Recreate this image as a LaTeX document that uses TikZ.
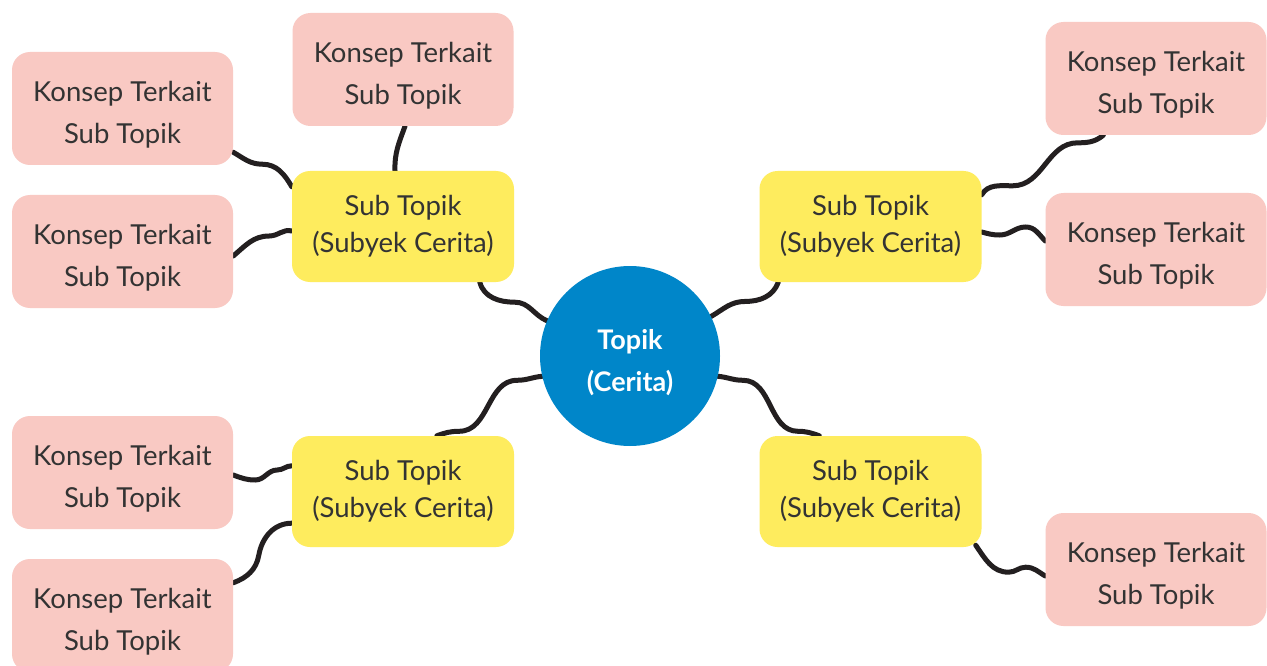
\documentclass[tikz,border=0pt]{standalone}
\usepackage{fontspec}
\setmainfont{Lato}
\usetikzlibrary{calc,backgrounds}
\definecolor{pinkbox}{HTML}{F9C9C3}
\definecolor{yellowbox}{HTML}{FEEC5E}
\definecolor{bluecirc}{HTML}{0086C9}
\definecolor{wirecol}{HTML}{231F20}
\definecolor{txt}{HTML}{333333}
\tikzset{
  boxtext/.style={align=center,font=\fontsize{27.5}{42}\selectfont,text=txt,inner sep=0pt},
  intext/.style={label={[boxtext,yshift=-6pt]center:{#1}}},
  subtext/.style={label={[boxtext,font=\fontsize{27.5}{37}\selectfont,yshift=0pt]center:{#1}}},
  pinkbox/.style={fill=pinkbox,rounded corners=18pt,minimum width=221pt,minimum height=113pt,inner sep=0pt},
  subbox/.style={fill=yellowbox,rounded corners=18pt,minimum width=222pt,minimum height=111pt,inner sep=0pt},
  topic/.style={circle,fill=bluecirc,minimum size=180pt,inner sep=0pt},
  topictext/.style={label={[align=center,text=white,font=\bfseries\fontsize{27}{42}\selectfont,inner sep=0pt,yshift=-7pt]center:{#1}}},
  wire/.style={draw=wirecol,line width=5pt,line cap=round}
}
\begin{document}
\begin{tikzpicture}[x=1pt,y=1pt]
\useasboundingbox (0,0) rectangle (1267,-666);
% nodes
\node[topic,topictext={Topik\\(Cerita)}] (c) at (630,-356) {};
\node[subbox,subtext={Sub Topik\\(Subyek Cerita)}] (yTL) at (403,-226.5) {};
\node[subbox,subtext={Sub Topik\\(Subyek Cerita)}] (yTR) at (870.5,-226.5) {};
\node[subbox,subtext={Sub Topik\\(Subyek Cerita)}] (yBL) at (403,-491.5) {};
\node[subbox,subtext={Sub Topik\\(Subyek Cerita)}] (yBR) at (870.5,-491.5) {};
\node[pinkbox,intext={Konsep Terkait\\Sub Topik}] (pTL1) at (122.5,-108.5) {};
\node[pinkbox,intext={Konsep Terkait\\Sub Topik}] (pTC) at (403,-69.5) {};
\node[pinkbox,intext={Konsep Terkait\\Sub Topik}] (pL2) at (122.5,-251.5) {};
\node[pinkbox,intext={Konsep Terkait\\Sub Topik}] (pL3) at (122.5,-472.5) {};
\node[pinkbox,intext={Konsep Terkait\\Sub Topik}] (pL4) at (122.5,-615.5) {};
\node[pinkbox,intext={Konsep Terkait\\Sub Topik}] (pR1) at (1156,-78.5) {};
\node[pinkbox,intext={Konsep Terkait\\Sub Topik}] (pR2) at (1156,-249.5) {};
\node[pinkbox,intext={Konsep Terkait\\Sub Topik}] (pR3) at (1156,-569.5) {};
\begin{scope}[on background layer]
\fill[white] (0,0) rectangle (1267,-666);
% 1 yTL -> circle
\draw[wire] ($(yTL.south west)+(188,0)$) to[out=-75,in=180] ++(35,-20) to[out=0,in=157] (c.157);
% 2 yTL -> pTC
\draw[wire] ($(yTL.north)+(-8,0)$) to[out=92,in=-110] ($(pTC.south)+(2,0)$);
% 3 pTL1 -> yTL
\draw[wire] ($(pTL1.south east)+(0,13)$) to[out=-30,in=180] ++(29,-12) to[out=0,in=120] ($(yTL.north west)+(0,-16)$);
% 4 pL2 -> yTL
\draw[wire] ($(pL2.east)+(0,-4.5)$) to[out=40,in=180] ++(36,20) to[out=0,in=165] ($(yTL.west)+(0,-4.5)$);
% 5 circle -> yTR
\draw[wire] (c.26) to[out=30,in=180] ++(34,15) to[out=0,in=-110] ($(yTR.south west)+(19,0)$);
% 6 yTR -> pR1
\draw[wire] ($(yTR.north east)+(0,-24)$) to[out=60,in=180] ++(31,9) to[out=0,in=180] ++(65,43) to[out=0,in=-140] ($(pR1.south west)+(58,0)$);
% 7 yTR -> pR2
\draw[wire] ($(yTR.east)+(0,-5.5)$) to[out=-15,in=180] ++(18,-3) to[out=0,in=180] ++(26,8) to[out=0,in=135] ($(pR2.west)+(0,8.5)$);
% 8 circle -> yBL
\draw[wire] (c.193) to[out=185,in=0] ++(-25,-4) to[out=180,in=0] ++(-58,-51) to[out=180,in=20] ($(yBL.north west)+(145,0)$);
% 9 circle -> yBR
\draw[wire] (c.-13) to[out=-5,in=180] ++(25,-4) to[out=0,in=180] ++(55,-51) to[out=0,in=160] ($(yBR.north west)+(60,0)$);
% 10 pL3 -> yBL
\draw[wire] ($(pL3.east)+(0,-2.5)$) to[out=-20,in=180] ++(22,-5) to[out=0,in=180] ++(22,10) to[out=0,in=180] ($(yBL.north west)+(0,-30)$);
% 11 yBL -> pL4
\draw[wire] ($(yBL.south west)+(0,24)$) to[out=180,in=80] ++(-33,-32) to[out=-100,in=20] ($(pL4.north east)+(0,-24)$);
% 12 yBR -> pR3
\draw[wire] ($(yBR.south east)+(-6,2)$) to[out=-55,in=180] ++(33,-27) to[out=0,in=180] ++(17,5) to[out=0,in=150] ($(pR3.west)+(0,-6.5)$);
\end{scope}
\end{tikzpicture}
\end{document}
